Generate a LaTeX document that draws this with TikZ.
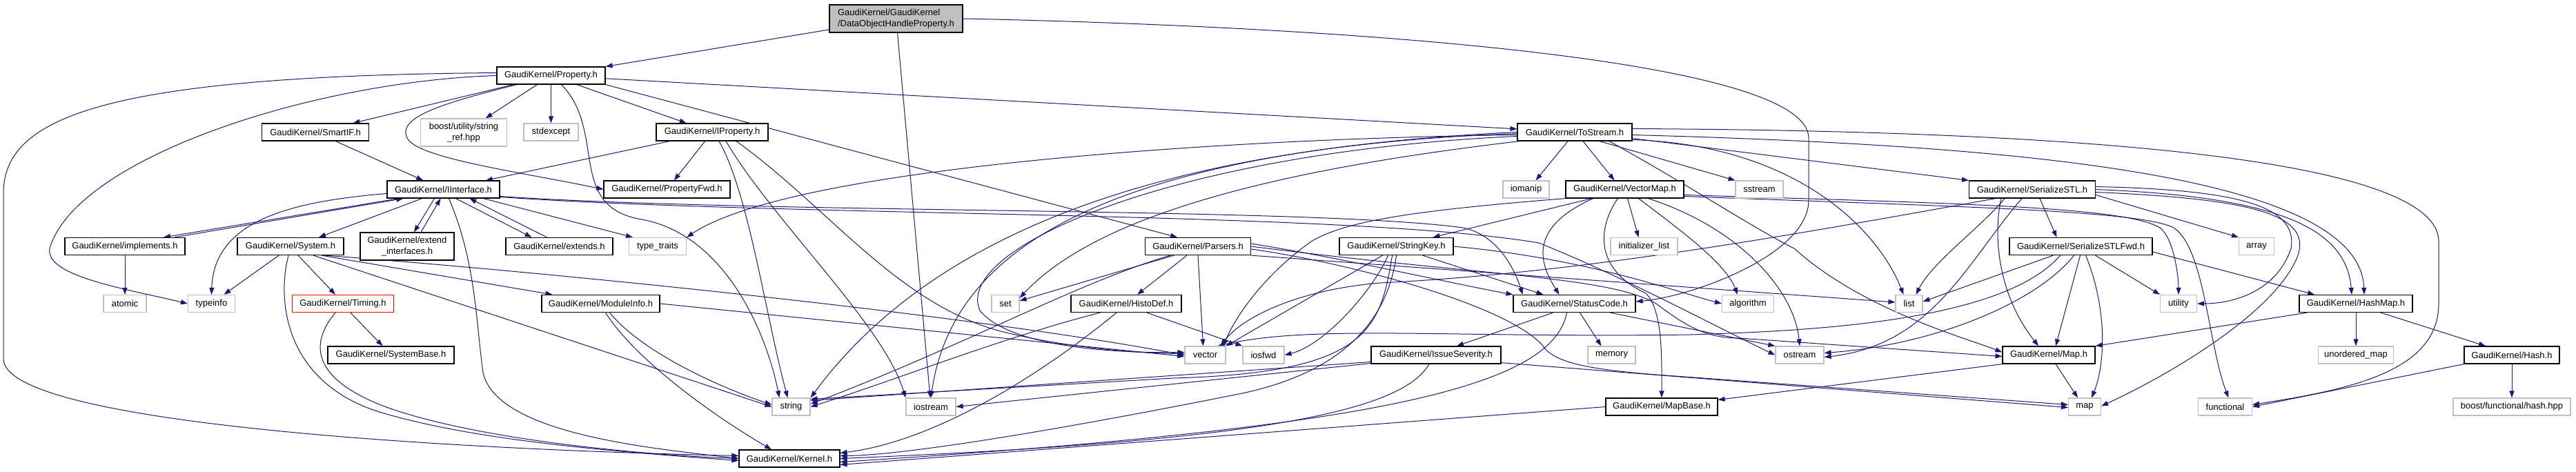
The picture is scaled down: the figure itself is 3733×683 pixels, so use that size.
\documentclass[tikz,border=0pt]{standalone}
\usepackage{fontspec}
\setmainfont{Liberation Sans}
\usetikzlibrary{arrows.meta,backgrounds}
\definecolor{edgeblue}{HTML}{191970}
\definecolor{extgray}{HTML}{BFBFBF}
\tikzset{
  hdr/.style={draw=black, line width=1.2pt, fill=white, inner sep=0pt, minimum height=25pt,
    font=\fontsize{13}{15.5}\selectfont},
  sys/.style={hdr, draw=extgray},
  nodoc/.style={hdr, draw=red},
  dep/.style={draw=edgeblue, line width=1pt, -{Triangle[length=10pt,width=7pt]}}
}

\begin{document}
\begin{tikzpicture}[x=1pt,y=-1pt]
%%%%% START %%%%%
\useasboundingbox (0,0) rectangle (3733,683);

% row 0 and 1
\node[hdr, fill=extgray, minimum width=193pt, minimum height=40pt, align=left] (dohp) at (1298.5,27) {GaudiKernel/GaudiKernel\\/DataObjectHandleProperty.h};
\node[hdr, minimum width=157pt] (property) at (798.5,109.5) {GaudiKernel/Property.h};

% row 2
\node[hdr, minimum width=155pt] (smartif) at (457,191.5) {GaudiKernel/SmartIF.h};
\node[sys, minimum width=125pt, minimum height=40pt, align=center] (stringref) at (672,192) {boost/utility/string\\\_ref.hpp};
\node[sys, minimum width=79pt] (stdexcept) at (798.5,191.5) {stdexcept};
\node[hdr, minimum width=162pt] (iproperty) at (1032,191.5) {GaudiKernel/IProperty.h};
\node[hdr, minimum width=166pt] (tostream) at (2282,191.5) {GaudiKernel/ToStream.h};

% row 3
\node[hdr, minimum width=163pt] (iinterface) at (642.5,274.5) {GaudiKernel/IInterface.h};
\node[hdr, minimum width=183pt] (propfwd) at (966.5,274.5) {GaudiKernel/PropertyFwd.h};
\node[sys, minimum width=67pt] (iomanip) at (2211.5,274.5) {iomanip};
\node[hdr, minimum width=171pt] (vectormap) at (2354.5,274.5) {GaudiKernel/VectorMap.h};
\node[sys, minimum width=69pt] (sstream) at (2549.5,274.5) {sstream};
\node[hdr, minimum width=183pt] (serializestl) at (2945,274.5) {GaudiKernel/SerializeSTL.h};

% row 4
\node[hdr, minimum width=174pt] (implements) at (181,357) {GaudiKernel/implements.h};
\node[hdr, minimum width=154pt] (system) at (421,357) {GaudiKernel/System.h};
\node[hdr, minimum width=136pt, minimum height=40pt, align=center] (extendif) at (590,357) {GaudiKernel/extend\\\_interfaces.h};
\node[hdr, minimum width=155pt] (extends) at (810.5,357) {GaudiKernel/extends.h};
\node[sys, minimum width=83pt] (typetraits) at (953,357) {type\_traits};
\node[hdr, minimum width=153pt] (parsers) at (1736,357) {GaudiKernel/Parsers.h};
\node[hdr, minimum width=165pt] (stringkey) at (2023.5,357) {GaudiKernel/StringKey.h};
\node[sys, minimum width=97pt] (initlist) at (2382.5,357) {initializer\_list};
\node[hdr, minimum width=207pt] (serializestlfwd) at (3015.5,357) {GaudiKernel/SerializeSTLFwd.h};
\node[sys, minimum width=51pt] (array) at (3270,357) {array};

% row 5
\node[sys, minimum width=62pt] (atomic) at (181,440) {atomic};
\node[sys, minimum width=68pt] (typeinfo) at (306.5,440) {typeinfo};
\node[nodoc, minimum width=147pt] (timing) at (497,440) {GaudiKernel/Timing.h};
\node[hdr, minimum width=171pt] (moduleinfo) at (870.5,440) {GaudiKernel/ModuleInfo.h};
\node[sys, minimum width=40pt] (set) at (1457,440) {set};
\node[hdr, minimum width=160pt] (histodef) at (1632,440) {GaudiKernel/HistoDef.h};
\node[hdr, minimum width=177pt] (statuscode) at (2281.5,440) {GaudiKernel/StatusCode.h};
\node[sys, minimum width=75pt] (algorithm) at (2533,440) {algorithm};
\node[sys, minimum width=39pt] (list) at (2766.5,440) {list};
\node[sys, minimum width=53pt] (utility) at (3157,440) {utility};
\node[hdr, minimum width=164pt] (hashmap) at (3414,440) {GaudiKernel/HashMap.h};

% row 6
\node[hdr, minimum width=183pt] (systembase) at (566.5,514.5) {GaudiKernel/SystemBase.h};
\node[sys, minimum width=59pt] (vector) at (1746.5,514.5) {vector};
\node[sys, minimum width=60pt] (iosfwd) at (1831,514.5) {iosfwd};
\node[hdr, minimum width=188pt] (issuesev) at (2081,514.5) {GaudiKernel/IssueSeverity.h};
\node[sys, minimum width=69pt] (memory) at (2335.5,514.5) {memory};
\node[sys, minimum width=70pt] (ostream) at (2608,514.5) {ostream};
\node[hdr, minimum width=134pt] (gkmap) at (2969,514.5) {GaudiKernel/Map.h};
\node[sys, minimum width=109pt] (unorderedmap) at (3414,514.5) {unordered\_map};
\node[hdr, minimum width=138pt] (hash) at (3640,514.5) {GaudiKernel/Hash.h};

% row 7 and 8
\node[sys, minimum width=55pt] (string) at (1146.5,589.5) {string};
\node[sys, minimum width=72pt] (iostream) at (1349,589.5) {iostream};
\node[hdr, minimum width=162pt] (mapbase) at (2408,589.5) {GaudiKernel/MapBase.h};
\node[sys, minimum width=47pt] (stdmap) at (3021,589.5) {map};
\node[sys, minimum width=78pt] (functional) at (3224.5,589.5) {functional};
\node[sys, minimum width=170pt] (hashhpp) at (3640,589.5) {boost/functional/hash.hpp};
\node[hdr, minimum width=146pt] (kernel) at (1144,664.5) {GaudiKernel/Kernel.h};

\begin{scope}[on background layer]
% top file
\draw[dep] (dohp) -- (property);
\draw[dep] ([xshift=2pt]dohp.south) -- ([xshift=-1pt]iostream.north);
\draw[dep] (dohp.east) .. controls (2000,40) and (2621,90) .. (2621,200) -- (2621,290) .. controls (2621,370) and (2450,430) .. ([yshift=3pt]statuscode.east);

% Property.h
\draw[dep] (property) -- (smartif);
\draw[dep] (property) -- (stringref);
\draw[dep] (property) -- (stdexcept);
\draw[dep] (property) -- (iproperty);
\draw[dep] (property) -- (tostream);
\draw[dep] (property.south east) -- ([xshift=-30pt]parsers.north);
\draw[dep] ([xshift=15pt]property.south) .. controls (880,190) and (820,300) .. (930,318) .. controls (1050,340) and (1110,480) .. ([xshift=-17pt]string.north);
\draw[dep] ([xshift=-50pt]property.south) .. controls (640,150) and (575,170) .. (590,200) .. controls (605,230) and (760,250) .. (propfwd.west);
\draw[dep] ([yshift=4pt]property.west) .. controls (150,110) and (5,170) .. (5,280) -- (5,520) .. controls (5,610) and (600,650) .. ([yshift=4pt]kernel.west);
\draw[dep] (property.west) .. controls (450,118) and (110,230) .. (72,360) .. controls (65,400) and (180,418) .. (typeinfo.west);

% SmartIF.h and IProperty.h
\draw[dep] (smartif) -- (iinterface);
\draw[dep] (iproperty) -- (iinterface);
\draw[dep] (iproperty) -- (propfwd);
\draw[dep] ([xshift=10pt]iproperty.south) .. controls (1085,280) and (1110,460) .. ([xshift=-5pt]string.north);
\draw[dep] ([xshift=20pt]iproperty.south) .. controls (1120,320) and (1280,470) .. (iostream.north west);
\draw[dep] ([xshift=35pt]iproperty.south) .. controls (1200,300) and (1300,440) .. (1450,480) .. controls (1550,505) and (1650,512) .. ([yshift=2pt]vector.west);

% IInterface.h
\draw[dep] ([xshift=-64pt]iinterface.south) -- ([xshift=56pt]implements.north);
\draw[dep] ([xshift=72pt]implements.north) -- ([xshift=-58pt]iinterface.south);
\draw[dep] ([xshift=-31pt]iinterface.south) -- ([xshift=41pt]system.north);
\draw[dep] ([xshift=-13pt]iinterface.south) -- ([xshift=10pt]extendif.north);
\draw[dep] ([xshift=20pt]extendif.north) -- ([xshift=-4pt]iinterface.south);
\draw[dep] ([xshift=18pt]iinterface.south) -- ([xshift=-40pt]extends.north);
\draw[dep] ([xshift=-18pt]extends.north) -- ([xshift=38pt]iinterface.south);
\draw[dep] ([yshift=-6pt]iinterface.west) .. controls (420,292) and (310,320) .. (typeinfo.north);
\draw[dep] ([xshift=58pt]iinterface.south) -- ([xshift=-36pt]typetraits.north);
\draw[dep] ([xshift=8pt]iinterface.south) .. controls (690,380) and (690,470) .. (700,540) .. controls (720,630) and (950,650) .. (kernel.west);
\draw[dep] ([yshift=-10pt]iinterface.east) .. controls (1100,310) and (1900,300) .. (2120,330) .. controls (2170,340) and (2195,390) .. ([xshift=-75pt]statuscode.north);
\draw[dep] ([yshift=-11pt]iinterface.east) .. controls (1150,315) and (1950,305) .. (2230,352) .. controls (2350,400) and (2480,470) .. (ostream.west);

% implements.h, System.h, Timing.h, ModuleInfo.h
\draw[dep] (implements) -- (atomic);
\draw[dep] ([xshift=-17pt]system.south) -- ([xshift=18pt]typeinfo.north);
\draw[dep] ([xshift=-3pt]system.south) .. controls (400,440) and (415,560) .. (560,600) .. controls (700,640) and (900,655) .. ([yshift=-3pt]kernel.west);
\draw[dep] ([xshift=11pt]system.south) -- ([xshift=-11pt]timing.north);
\draw[dep] ([xshift=45pt]system.south) -- ([xshift=-70pt]moduleinfo.north);
\draw[dep] ([xshift=33pt]system.south) -- (string.west);
\draw[dep] ([xshift=50pt]system.south) .. controls (800,395) and (1400,455) .. (vector.west);
\draw[dep] ([xshift=-11pt]timing.south) .. controls (455,490) and (440,545) .. (560,590) .. controls (700,640) and (950,660) .. (kernel.west);
\draw[dep] ([xshift=11pt]timing.south) -- ([xshift=-12pt]systembase.north);
\draw[dep] ([xshift=7pt]moduleinfo.south) .. controls (920,520) and (1030,600) .. ([xshift=-26pt]kernel.north);
\draw[dep] ([xshift=13pt]moduleinfo.south) .. controls (930,510) and (1040,560) .. ([yshift=3pt]string.west);
\draw[dep] (moduleinfo.east) -- ([yshift=-2pt]vector.west);

% ToStream.h
\draw[dep] ([xshift=-10pt]tostream.south) -- ([xshift=14pt]iomanip.north);
\draw[dep] ([xshift=12pt]tostream.south) -- ([xshift=-15pt]vectormap.north);
\draw[dep] ([xshift=36pt]tostream.south) -- ([xshift=-35pt]sstream.north);
\draw[dep] ([yshift=-9pt]tostream.east) -- (serializestl.north west);
\draw[dep] ([yshift=-4pt]tostream.west) .. controls (1800,200) and (1150,240) .. (typetraits.north east);
\draw[dep] ([yshift=-2pt]tostream.west) .. controls (1600,215) and (1320,380) .. (string.north east);
\draw[dep] (tostream.west) .. controls (1600,220) and (1380,360) .. (iostream.north);
\draw[dep] ([yshift=-6pt]tostream.west) .. controls (1700,220) and (1380,360) .. (1420,450) .. controls (1460,500) and (1600,512) .. ([yshift=4pt]vector.west);
\draw[dep] ([xshift=-80pt]tostream.south) .. controls (1900,240) and (1600,300) .. ([yshift=-5pt]set.north east);
\draw[dep] ([yshift=-11pt]tostream.east) .. controls (2600,210) and (2720,330) .. ([xshift=-8pt]list.north);
\draw[dep] ([xshift=50pt]tostream.south) .. controls (2450,270) and (2540,330) .. (2600,360) .. controls (2700,450) and (2850,490) .. ([yshift=4pt]gkmap.west);
\draw[dep] ([yshift=-4pt]tostream.east) .. controls (2900,210) and (3420,250) .. ([xshift=12pt]hashmap.north);
\draw[dep] ([yshift=5pt]tostream.east) .. controls (3100,190) and (3534,240) .. (3534,350) -- (3534,440) .. controls (3534,540) and (3400,565) .. ([yshift=3pt]functional.east);

% VectorMap.h
\draw[dep] ([xshift=-48pt]vectormap.south) -- ([xshift=53pt]stringkey.north);
\draw[dep] (vectormap.south west) .. controls (2050,305) and (1950,320) .. (1900,350) .. controls (1830,400) and (1790,460) .. ([xshift=-4pt]vector.north east);
\draw[dep] ([xshift=-46pt]vectormap.south) .. controls (2215,330) and (2230,380) .. ([xshift=-22pt]statuscode.north);
\draw[dep] ([xshift=-10pt]vectormap.south) .. controls (2315,330) and (2310,390) .. (2385,425) .. controls (2410,450) and (2408,520) .. (mapbase.north);
\draw[dep] ([xshift=4pt]vectormap.south) -- ([xshift=-8pt]initlist.north);
\draw[dep] ([xshift=20pt]vectormap.south) .. controls (2430,330) and (2500,380) .. ([xshift=-15pt]algorithm.north);
\draw[dep] ([xshift=34pt]vectormap.south) .. controls (2520,330) and (2600,420) .. (ostream.north);
\draw[dep] ([yshift=-8pt]vectormap.east) .. controls (2850,295) and (3080,300) .. (3130,330) .. controls (3150,345) and (3157,400) .. (utility.north);
\draw[dep] ([yshift=-10pt]vectormap.east) .. controls (2850,300) and (3100,305) .. (3150,330) .. controls (3195,360) and (3200,500) .. ([xshift=5pt]functional.north);

% StringKey.h
\draw[dep] ([xshift=38pt]stringkey.south) -- ([xshift=-45pt]statuscode.north);
\draw[dep] (stringkey.east) .. controls (2300,375) and (2420,420) .. (algorithm.west);
\draw[dep] ([xshift=-20pt]stringkey.south) -- (vector.north east);
\draw[dep] ([xshift=-12pt]stringkey.south) .. controls (1990,420) and (1920,500) .. (iosfwd.east);
\draw[dep] ([xshift=-6pt]stringkey.south) .. controls (2000,480) and (1980,540) .. (1700,548) -- ([yshift=-2pt]string.north east);
\draw[dep] (stringkey.south) .. controls (2010,470) and (1940,540) .. (1800,570) .. controls (1500,630) and (1300,660) .. ([yshift=4pt]kernel.east);

% Parsers.h and HistoDef.h
\draw[dep] ([xshift=-35pt]parsers.south) -- ([yshift=-9pt]set.north east);
\draw[dep] ([xshift=-40pt]parsers.south) .. controls (1560,410) and (1400,500) .. ([yshift=4pt]string.east);
\draw[dep] ([xshift=-16pt]parsers.south) -- ([xshift=16pt]histodef.north);
\draw[dep] (parsers.south) -- ([xshift=-3pt]vector.north);
\draw[dep] ([yshift=4pt]parsers.east) .. controls (1950,375) and (2100,410) .. (statuscode.north west);
\draw[dep] (parsers.south east) -- ([yshift=2pt]list.west);
\draw[dep] (parsers.east) .. controls (2150,400) and (2330,400) .. (2400,440) .. controls (2440,470) and (2470,490) .. (2520,490) -- ([yshift=-2pt]gkmap.west);
\draw[dep] ([yshift=-4pt]parsers.east) .. controls (1950,380) and (2180,440) .. (2235,500) .. controls (2250,525) and (2300,535) .. (2400,543) -- ([yshift=3pt]stdmap.west);
\draw[dep] ([xshift=-38pt]histodef.south) .. controls (1450,490) and (1300,550) .. (string.east);
\draw[dep] ([xshift=-14pt]histodef.south) .. controls (1500,550) and (1350,640) .. ([yshift=8pt]kernel.east);
\draw[dep] ([xshift=30pt]histodef.south) -- (iosfwd.north west);

% IssueSeverity.h, StatusCode.h, MapBase.h
\draw[dep] ([yshift=-10pt]issuesev.west) -- ([yshift=-4pt]string.north east);
\draw[dep] ([yshift=-12pt]issuesev.west) -- (iostream.east);
\draw[dep] ([xshift=-10pt]issuesev.south) .. controls (2030,600) and (1800,640) .. (kernel.east);
\draw[dep] ([yshift=2pt]issuesev.south east) -- ([yshift=-1pt]stdmap.west);
\draw[dep] ([xshift=-31pt]statuscode.south) -- ([xshift=30pt]issuesev.north);
\draw[dep] ([xshift=-11pt]statuscode.south) .. controls (2250,560) and (2000,620) .. ([yshift=-5pt]kernel.east);
\draw[dep] ([xshift=8pt]statuscode.south) -- ([xshift=-15pt]memory.north);
\draw[dep] ([xshift=52pt]statuscode.south) -- (ostream.north west);
\draw[dep] (mapbase.west) -- ([yshift=-9pt]kernel.east);

% Map.h, HashMap.h, Hash.h
\draw[dep] (gkmap.south west) -- ([yshift=-3pt]mapbase.north east);
\draw[dep] ([xshift=10pt]gkmap.south) -- ([xshift=-10pt]stdmap.north);
\draw[dep] ([xshift=-71pt]hashmap.south) -- (gkmap.north east);
\draw[dep] (hashmap) -- (unorderedmap);
\draw[dep] ([xshift=36pt]hashmap.south) -- ([xshift=-38pt]hash.north);
\draw[dep] (hash.south west) -- (functional.east);
\draw[dep] (hash) -- (hashhpp);

% SerializeSTL.h
\draw[dep] ([xshift=11pt]serializestl.south) -- ([xshift=-35pt]serializestlfwd.north);
\draw[dep] ([xshift=-53pt]serializestl.south) .. controls (2600,340) and (2300,395) .. (2000,410) .. controls (1880,420) and (1800,460) .. ([xshift=-8pt]vector.north east);
\draw[dep] ([xshift=-15pt]serializestl.south) .. controls (2850,380) and (2800,500) .. ([yshift=-3pt]ostream.east);
\draw[dep] ([xshift=-45pt]serializestl.south) .. controls (2890,330) and (2890,420) .. ([xshift=-15pt]gkmap.north);
\draw[dep] ([xshift=-40pt]serializestl.south) .. controls (2870,330) and (2800,380) .. ([xshift=10pt]list.north);
\draw[dep] ([yshift=-8pt]serializestl.east) -- (array.north west);
\draw[dep] ([yshift=4pt]serializestl.east) .. controls (3250,275) and (3330,300) .. (3320,360) .. controls (3300,420) and (3240,440) .. (utility.east);
\draw[dep] (serializestl.east) .. controls (3300,285) and (3400,330) .. ([xshift=-6pt]hashmap.north);
\draw[dep] ([yshift=-4pt]serializestl.east) .. controls (3260,288) and (3350,310) .. (3330,370) .. controls (3300,450) and (3150,540) .. ([yshift=1pt]stdmap.east);

% SerializeSTLFwd.h
\draw[dep] ([xshift=-40pt]serializestlfwd.south) -- ([yshift=3pt]list.east);
\draw[dep] ([xshift=-10pt]serializestlfwd.south) .. controls (2950,440) and (2800,500) .. ([yshift=3pt]ostream.east);
\draw[dep] ([xshift=-30pt]serializestlfwd.south) .. controls (2900,470) and (2600,480) .. (2450,485) .. controls (2100,490) and (1900,470) .. ([xshift=-12pt]vector.north east);
\draw[dep] ([xshift=-1pt]serializestlfwd.south) -- ([xshift=10pt]gkmap.north);
\draw[dep] ([xshift=7pt]serializestlfwd.south) .. controls (3055,450) and (3050,530) .. ([xshift=10pt]stdmap.north);
\draw[dep] ([xshift=21pt]serializestlfwd.south) -- (utility.north west);
\draw[dep] ([yshift=-8pt]serializestlfwd.east) -- ([xshift=-60pt]hashmap.north);
\end{scope}
%%%%% END %%%%%
\end{tikzpicture}
\end{document}
